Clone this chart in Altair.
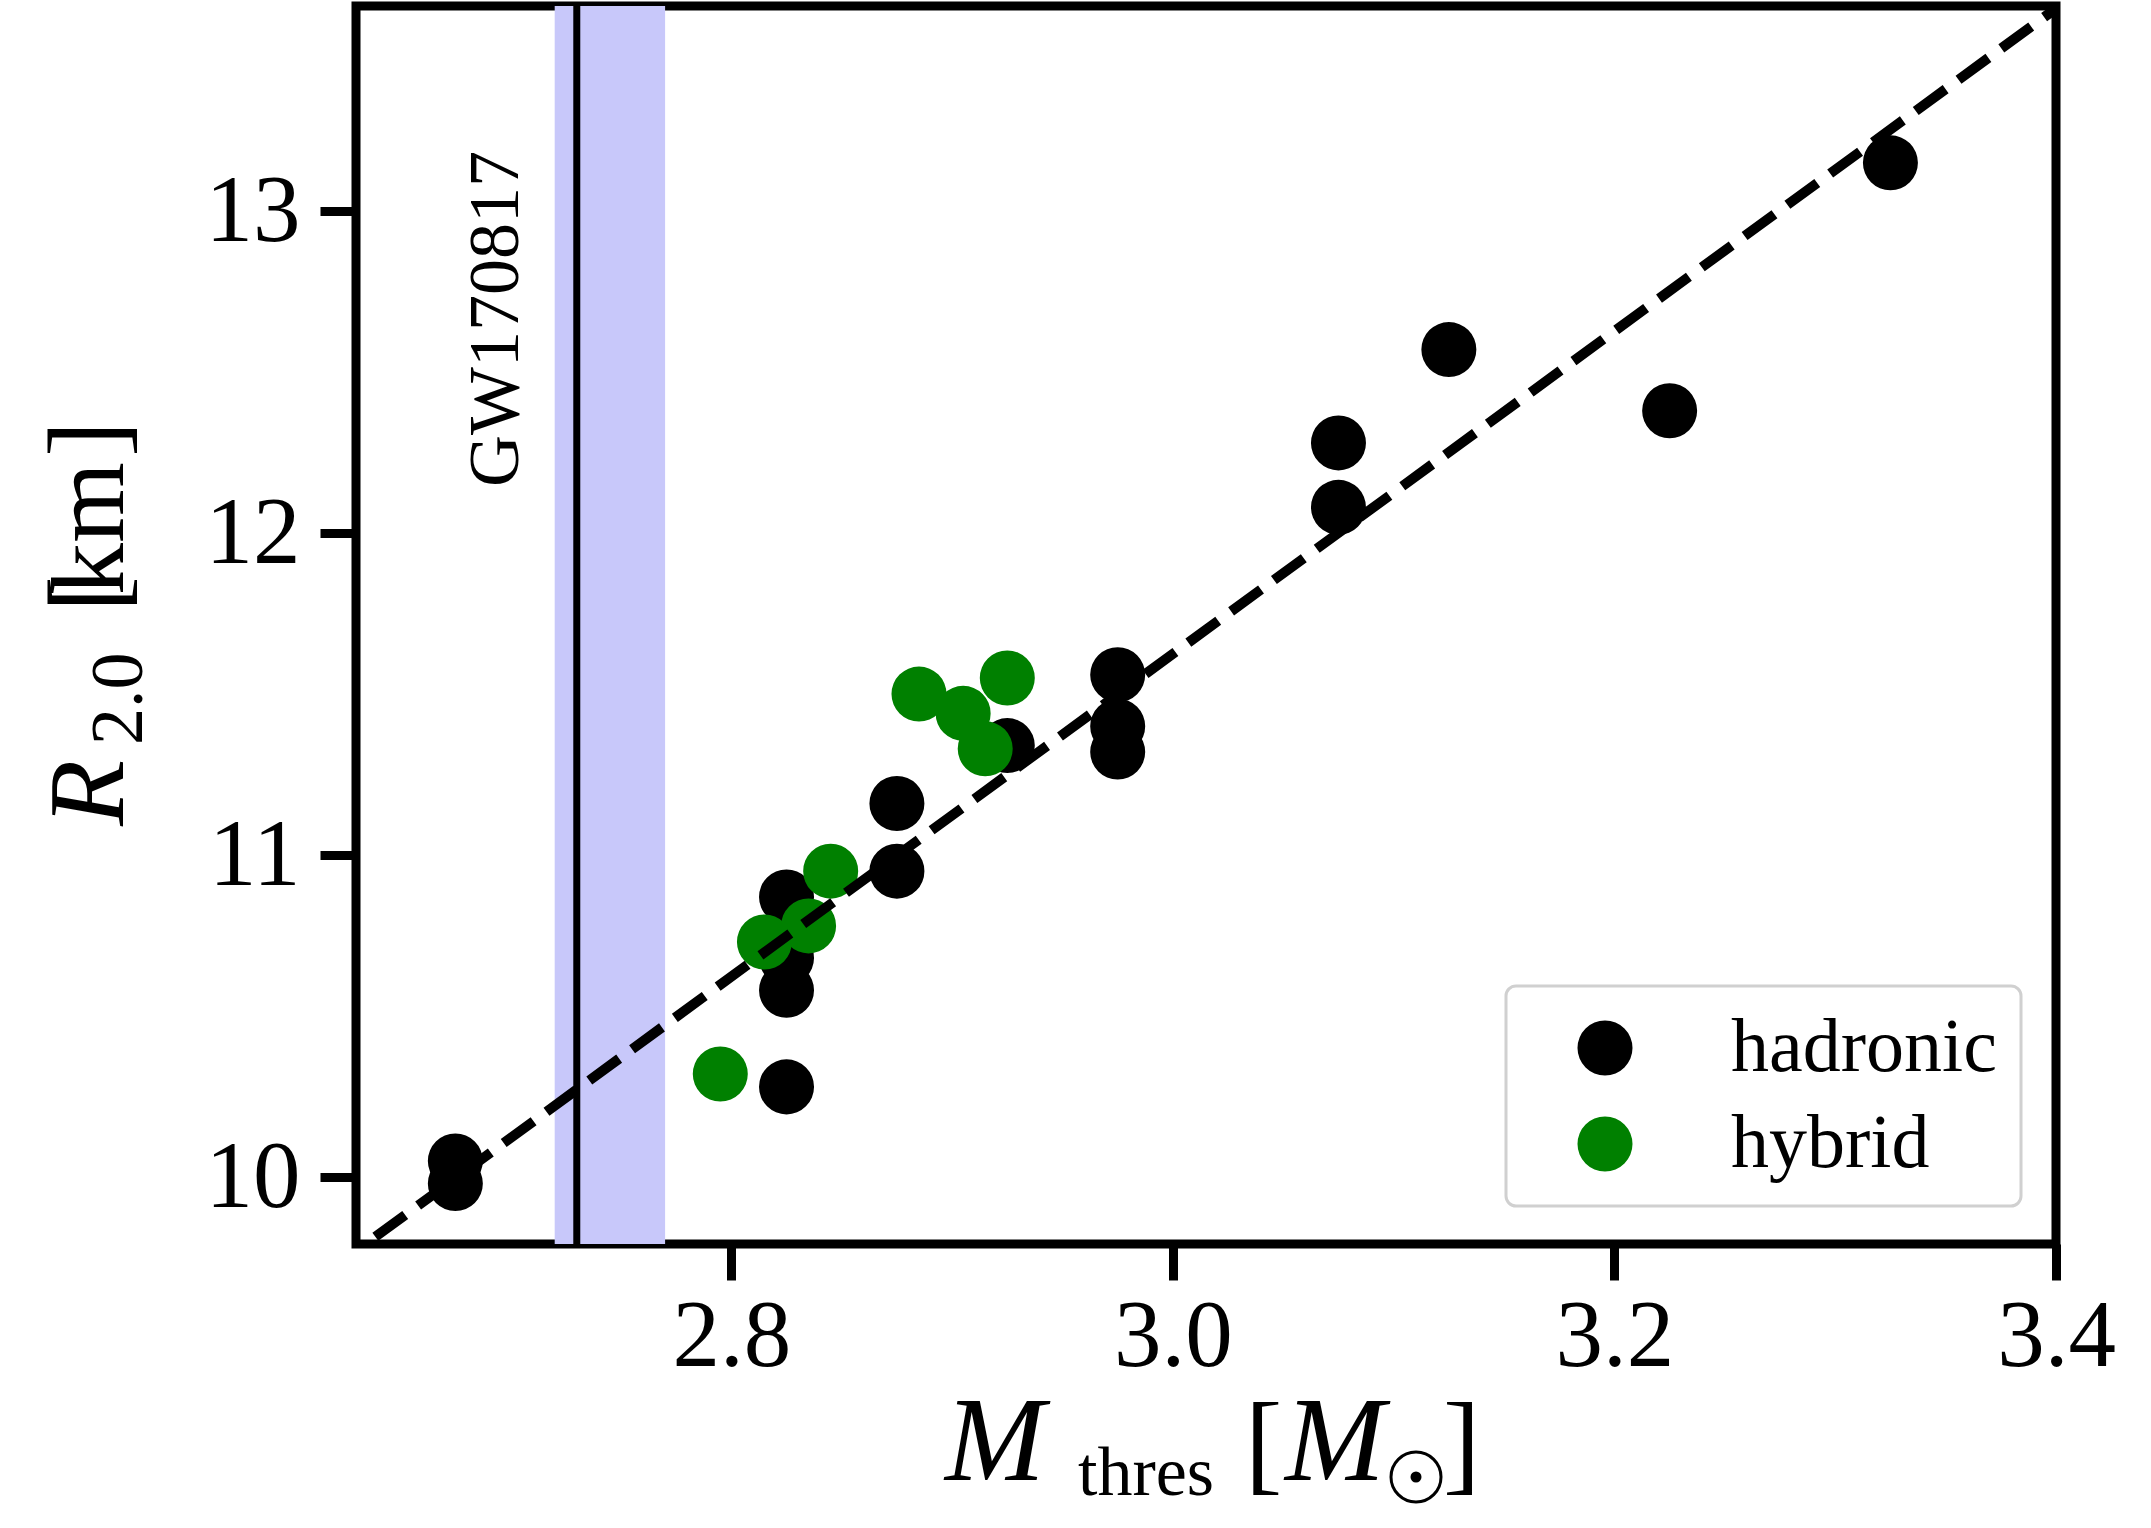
import altair as alt
import pandas as pd

# Threshold binary masses [M_sun] and radii of 2.0 M_sun neutron stars [km]
hadronic_mthres = [2.675, 2.675, 2.825, 2.825, 2.825, 2.825, 2.875, 2.875, 2.925,
                   2.975, 2.975, 2.975, 3.075, 3.075, 3.125, 3.225, 3.325]
hadronic_r20 = [10.05, 9.98, 10.87, 10.68, 10.58, 10.28, 11.16, 10.95, 11.34,
                11.56, 11.40, 11.32, 12.28, 12.08, 12.57, 12.38, 13.15]
hybrid_mthres = [2.795, 2.815, 2.835, 2.845, 2.885, 2.905, 2.915, 2.925]
hybrid_r20 = [10.32, 10.73, 10.78, 10.95, 11.50, 11.44, 11.33, 11.55]

# Linear fit R_2.0(M_thres), end points
fit_mthres = [2.60, 3.45]
fit_r20 = [9.62, 13.88]

# GW170817 total mass and its uncertainty band
gw_mass = [2.73]
gw_band_lo = [2.72]
gw_band_hi = [2.77]
gw_label = ["GW170817"]
gw_label_pos = [2.7034, 12.143]

eos_types = ["hadronic", "hybrid"]
eos_colors = ["black", "green"]

x_domain = [2.63, 3.40]
y_domain = [9.792, 13.637]
x_ticks = [2.8, 3.0, 3.2, 3.4]
y_ticks = [10, 11, 12, 13]

W, H = 1700, 1238
SERIF = "Liberation Serif"

x_scale = alt.Scale(domain=x_domain, nice=False, zero=False)
y_scale = alt.Scale(domain=y_domain, nice=False, zero=False)
x_axis = alt.Axis(values=x_ticks, format=".1f", title=None, labelPadding=10,
                  labelFlush=False, labelOverlap=False)
y_axis = alt.Axis(values=y_ticks, format="d", title=None, labelPadding=20,
                  labelFlush=False, labelOverlap=False)


def xq(field):
    return alt.X(field, type="quantitative", scale=x_scale, axis=x_axis)


def yq(field):
    return alt.Y(field, type="quantitative", scale=y_scale, axis=y_axis)


points = pd.DataFrame({
    "mthres": hadronic_mthres + hybrid_mthres,
    "r20": hadronic_r20 + hybrid_r20,
    "eos": ["hadronic"] * len(hadronic_mthres) + ["hybrid"] * len(hybrid_mthres),
})
fit = pd.DataFrame({"mthres": fit_mthres, "r20": fit_r20})
band = pd.DataFrame({"lo": gw_band_lo, "hi": gw_band_hi})
gw = pd.DataFrame({"m": gw_mass})
gw_text = pd.DataFrame({"m": [gw_label_pos[0]], "r": [gw_label_pos[1]], "t": gw_label})
one = pd.DataFrame({"k": [0]})

band_layer = alt.Chart(band).mark_rect(color="#c8c8fa").encode(
    x=xq("lo"), x2="hi", y=alt.value(0), y2=alt.value(H)
)
gw_rule = alt.Chart(gw).mark_rule(color="black", strokeWidth=7).encode(x=xq("m"))

scatter = alt.Chart(points).mark_circle(size=3025, opacity=1).encode(
    x=xq("mthres"),
    y=yq("r20"),
    color=alt.Color(
        "eos:N",
        scale=alt.Scale(domain=eos_types, range=eos_colors),
        legend=alt.Legend(
            title=None, orient="none", legendX=1150, legendY=980,
            fillColor="white", strokeColor="#d0d0d0", cornerRadius=10,
            padding=24, symbolType="circle", symbolSize=3025, symbolOpacity=1,
            symbolStrokeWidth=0, symbolOffset=37, labelOffset=88,
            labelFont=SERIF, labelFontSize=76, labelColor="black", labelLimit=500,
            rowPadding=20,
        ),
    ),
)

fit_layer = alt.Chart(fit).mark_line(
    color="black", strokeWidth=10, strokeDash=[37, 16], clip=True
).encode(x=xq("mthres"), y=yq("r20"))

gw_label_layer = alt.Chart(gw_text).mark_text(
    angle=270, align="left", baseline="alphabetic", font=SERIF, fontSize=72, color="black"
).encode(x=xq("m"), y=yq("r"), text="t:N")


def piece(text, x, y, size, italic=False, angle=0, font=SERIF):
    kw = dict(text=text, font=font, fontSize=size, align="left",
              baseline="alphabetic", color="black", angle=angle)
    if italic:
        kw["fontStyle"] = "italic"
    return alt.Chart(one).mark_text(**kw).encode(x=alt.value(x), y=alt.value(y))


# x-axis title: M_thres [M_sun]
x_title = [
    piece("M", 589, 1474, 120, italic=True),
    piece("thres", 722, 1489, 70),
    piece("[", 889, 1474, 112),
    piece("M", 929, 1474, 120, italic=True),
    piece("]", 1087, 1474, 112),
]
sun_ring = alt.Chart(one).mark_point(
    shape="circle", filled=False, size=2500, strokeWidth=3, color="black", opacity=1
).encode(x=alt.value(1060), y=alt.value(1471))
sun_dot = alt.Chart(one).mark_point(
    shape="circle", filled=True, size=121, color="black", opacity=1
).encode(x=alt.value(1060), y=alt.value(1471))

# y-axis title: R_2.0 [km]
y_title = [
    piece("R", -233, 820, 108, italic=True, angle=270),
    piece("2.0", -214, 739, 74, angle=270),
    piece("[", -233, 606, 108, angle=270),
    piece("km", -233, 589, 104, angle=270),
    piece("]", -233, 451, 108, angle=270),
]

chart = alt.layer(
    band_layer, gw_rule, scatter, fit_layer, gw_label_layer,
    *x_title, sun_ring, sun_dot, *y_title,
).properties(
    width=W, height=H,
    autosize=alt.AutoSizeParams(type="none"),
    padding={"left": 356, "top": 6, "right": 95, "bottom": 284},
    background="white",
).configure_view(
    stroke="black", strokeWidth=9
).configure_axis(
    grid=False, domain=False, ticks=True, tickColor="black", tickWidth=9, tickSize=36,
    labelFont=SERIF, labelFontSize=95, labelColor="black",
).configure_legend(
    strokeWidth=3
)

chart.save("out.html", embed_options={"renderer": "svg", "actions": False})
